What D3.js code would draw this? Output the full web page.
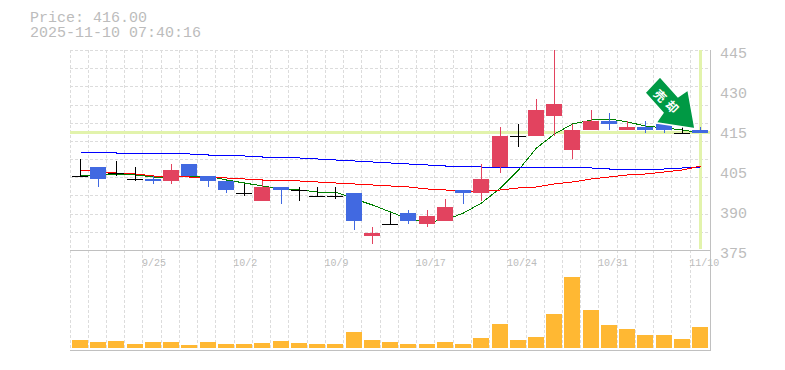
<!DOCTYPE html>
<html><head><meta charset="utf-8">
<script src="https://cdn.jsdelivr.net/npm/d3@7"></script>
<style>html,body{margin:0;padding:0;background:#fff}svg{display:block}text{font-family:"Liberation Mono",monospace;fill:#bcbcbc}</style>
</head><body><svg id="c" width="785" height="370"></svg>
<script>
const dates=["9/18","9/19","9/22","9/24","9/25","9/26","9/29","9/30","10/1","10/2","10/3","10/6","10/7","10/8","10/9","10/10","10/14","10/15","10/16","10/17","10/20","10/21","10/22","10/23","10/24","10/27","10/28","10/29","10/30","10/31","11/4","11/5","11/6","11/7","11/10"];
const dateTicks=["9/25","10/2","10/9","10/17","10/24","10/31","11/10"];
const open =[401,404,402,400,400,399,405,401,399,395,392,397,396,394,394,395,380,384,388,384,385,396,395,404,415,415,422,410,417,420,417,418,419,416,417];
const high =[407,404,406,404,401,405,405,401,399,398,399,397,397,397,397,395,383,388,389,389,393,396,405,418,419,428,445,419,424,423,420,420,419,418,418];
const low  =[401,397,401,399,398,398,401,397,395,394,392,391,392,394,393,382,377,384,384,383,385,391,392,402,411,415,415,407,417,417,417,416,416,416,416];
const close=[401,400,402,400,399,403,401,399,396,395,397,396,396,394,394,385,381,384,385,387,390,395,400,415,415,424,426,417,420,419,418,417,417,416,416];
const maLong =[409.3,409.3,408.95,408.95,408.95,408.95,408.6,408.25,408.25,407.9,407.55,407.55,407.2,406.85,406.5,406.15,405.8,405.45,405.1,404.75,404.4,404.4,404.05,404.05,404.05,404.05,404.05,404.05,403.7,403.35,403.35,403.35,403.35,403.7,404.05];
const maMid  =[403,402.3,401.95,401.6,400.9,400.9,400.55,400.55,400.2,399.85,399.5,399.5,399.15,398.8,398.45,398.1,397.75,397.4,397.05,396.35,396,395.65,395.65,396,396.7,397.05,398.1,398.8,399.85,400.55,401.25,401.6,402.3,403,404.4];
const maShort=[401.25,401.25,401.6,401.25,400.55,400.55,400.9,400.9,399.5,398.45,397.4,396.35,396,395.3,395.3,392.85,390.75,388.3,385.85,384.8,385.5,387.95,391.45,396.7,403,410.7,415.6,419.1,420.5,420.85,419.8,418.4,417.7,417,415.95];
const volume =[8,6,7,4,6,6,3,6,4,4,5,7,5,4,4,16,8,6,4,4,6,4,10,24,8,11,34,71,38,23,19,13,13,9,21];
const priceTicks=[445,431,417,403,389,375];
const priceLabels=["445","430","415","405","390","375"];
const gridPrices=d3.range(0,12);
const lastPrice=416;
const headerLines=["Price: 416.00","2025-11-10 07:40:16"];
const arrowWords=["売","却"];

const svg=d3.select("#c");
const x=d3.scaleBand().domain(dates).range([71,709.4]);
const y=d3.scaleLinear().domain([375,445]).range([250,50]);
const yv=d3.scaleLinear().domain([0,100]).range([348,248]);
const cx=d=>Math.round(x(d))+9.5;
const px=v=>Math.round(y(v));

// header
svg.selectAll(".h").data(headerLines).join("text").attr("class","h").attr("x",30).attr("y",(d,i)=>22+i*15).attr("font-size",15).text(d=>d);

// grid
const grid=svg.append("g").attr("stroke","#dcdcdc").attr("stroke-dasharray","3,2").attr("shape-rendering","crispEdges");
grid.selectAll(".gh").data(gridPrices).join("line").attr("x1",70).attr("x2",710)
  .attr("y1",d=>Math.round(y(445-d*70/11))+.5).attr("y2",d=>Math.round(y(445-d*70/11))+.5);
grid.selectAll(".gv").data(dates).join("line").attr("x1",d=>Math.floor(x(d))-.5).attr("x2",d=>Math.floor(x(d))-.5).attr("y1",50).attr("y2",350);

// current price highlight
const hl=svg.append("g").attr("fill","#e2f3ac");
hl.append("rect").attr("x",70).attr("width",640).attr("y",px(lastPrice)-2).attr("height",3);
hl.append("rect").attr("x",Math.floor(cx(dates[34]))-1).attr("width",3).attr("y",50).attr("height",199);

// frame
const fr=svg.append("g").attr("stroke","#c0c0c0").attr("shape-rendering","crispEdges");
fr.append("line").attr("x1",70).attr("x2",710).attr("y1",250.5).attr("y2",250.5);
fr.append("line").attr("x1",70).attr("x2",710).attr("y1",350.5).attr("y2",350.5);
fr.append("line").attr("x1",710.5).attr("x2",710.5).attr("y1",50).attr("y2",351);

// moving averages
const ln=d3.line().x((d,i)=>cx(dates[i])).y(d=>y(d));
[[maShort,"#008000"],[maLong,"#0000ff"],[maMid,"#ff0000"]].forEach(([s,c])=>{
  svg.append("path").attr("d",ln(s)).attr("fill","none").attr("stroke",c).attr("stroke-width",1).attr("shape-rendering","crispEdges");
});

// candles
const colour=i=>close[i]>open[i]?"#e2435f":close[i]<open[i]?"#4169e1":"#000";
const cg=svg.append("g").attr("shape-rendering","crispEdges");
dates.forEach((d,i)=>{
  const c=colour(i), m=cx(d);
  cg.append("line").attr("x1",m).attr("x2",m).attr("y1",px(high[i])).attr("y2",px(low[i])).attr("stroke",c);
  if(open[i]===close[i]){
    cg.append("line").attr("x1",m-8.5).attr("x2",m+7.5).attr("y1",px(open[i])+.5).attr("y2",px(open[i])+.5).attr("stroke",c);
  }else{
    const t=px(Math.max(open[i],close[i])), b=px(Math.min(open[i],close[i]));
    cg.append("rect").attr("x",m-8.5).attr("width",16).attr("y",t).attr("height",b-t).attr("fill",c);
  }
});

// volume
svg.append("g").attr("fill","#ffb833").attr("shape-rendering","crispEdges").selectAll("rect").data(volume).join("rect")
  .attr("x",(d,i)=>cx(dates[i])-8.5).attr("width",16).attr("y",d=>yv(d)).attr("height",d=>yv(0)-yv(d));

// axes
const ay=svg.append("g").attr("transform","translate(720,0)").call(d3.axisRight(y).tickValues(priceTicks).tickSize(0).tickPadding(0).tickFormat((d,i)=>priceLabels[i]));
ay.select(".domain").remove();
ay.selectAll("text").attr("font-size",15).attr("font-family",null).attr("dy","0").attr("y",7).attr("x",0).style("fill","#bcbcbc");
const ax=svg.append("g").attr("transform","translate(0,250)").call(d3.axisBottom(x).tickValues(dateTicks).tickSize(0).tickPadding(0));
ax.select(".domain").remove();
ax.selectAll("text").attr("font-size",10).attr("font-family",null).attr("text-anchor","start").attr("dy",0).attr("x",-11).attr("y",16).style("fill","#bcbcbc");

// arrow annotation, anchored at the last candle
const tipX=cx(dates[34])-5.5, tipY=y(lastPrice)-4;
const arrow=svg.append("g").attr("transform",`translate(${tipX},${tipY})`);
const shape=[[0,0],[-39,-6],[-32,-16],[-50,-36],[-35,-52],[-17,-32],[-7,-39]];
arrow.append("polygon").attr("points",shape.map(p=>p.join(",")).join(" ")).attr("fill","#009944").attr("stroke","#fff").attr("stroke-width",1.5).attr("stroke-linejoin","miter");
arrow.selectAll("text").data(arrowWords).join("text")
  .attr("transform",(d,i)=>`translate(${-35+i*12},${-33+i*11}) rotate(45)`)
  .attr("text-anchor","middle").attr("dy","0.36em").attr("font-size",12).attr("font-weight",700)
  .style("font-family","'Noto Sans CJK JP'").style("fill","#fff").text(d=>d);
</script></body></html>
